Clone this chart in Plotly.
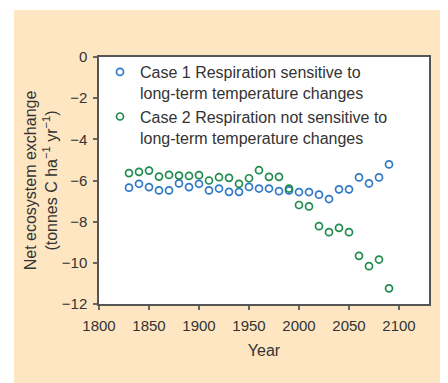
import plotly.graph_objects as go

years = [1830, 1840, 1850, 1860, 1870, 1880, 1890, 1900, 1910, 1920, 1930, 1940, 1950, 1960,
         1970, 1980, 1990, 2000, 2010, 2020, 2030, 2040, 2050, 2060, 2070, 2080, 2090]
case1 = [-6.35, -6.16, -6.32, -6.48, -6.48, -6.14, -6.32, -6.16, -6.48, -6.39, -6.55, -6.55, -6.31, -6.39,
         -6.39, -6.52, -6.48, -6.56, -6.56, -6.69, -6.90, -6.43, -6.43, -5.85, -6.14, -5.85, -5.22]
case2 = [-5.64, -5.58, -5.52, -5.81, -5.73, -5.76, -5.78, -5.74, -6.00, -5.84, -5.87, -6.16, -5.89, -5.50,
         -5.82, -5.82, -6.39, -7.19, -7.26, -8.22, -8.51, -8.30, -8.51, -9.66, -10.16, -9.84, -11.24]
name1 = "Case 1 Respiration sensitive to<br>long-term temperature changes"
name2 = "Case 2 Respiration not sensitive to<br>long-term temperature changes"
xticks = [1800, 1850, 1900, 1950, 2000, 2050, 2100]
yticks = [0, -2, -4, -6, -8, -10, -12]

BLUE = "#2f78c8"
GREEN = "#1f8b4c"
PEACH = "#fee6c2"
FONT = "Liberation Sans, Arial, sans-serif"

fig = go.Figure()
fig.add_trace(go.Scatter(x=years, y=case1, mode="markers", name=name1,
                         marker=dict(symbol="circle-open", size=7, color=BLUE, line=dict(width=1.7, color=BLUE))))
fig.add_trace(go.Scatter(x=years, y=case2, mode="markers", name=name2,
                         marker=dict(symbol="circle-open", size=7, color=GREEN, line=dict(width=1.7, color=GREEN))))

OFF = 8  # default page body margin
W, H = 448 - OFF, 383 - OFF
L, T = 99 - OFF, 57 - OFF
R = W - (429 - OFF)
B = H - (304 - OFF)
pw, ph = W - L - R, H - T - B

def px2x(p):  # page pixel -> paper x
    return (p - OFF - L) / pw

def py2y(p):  # page pixel -> paper y
    return (H - B - (p - OFF)) / ph

fig.update_layout(
    width=W, height=H,
    margin=dict(l=L, r=R, t=T, b=B, pad=0, autoexpand=False),
    paper_bgcolor=PEACH, plot_bgcolor="white",
    font=dict(family=FONT, size=15, color="#333333"),
    showlegend=True,
    legend=dict(x=px2x(100), y=py2y(55), xanchor="left", yanchor="top",
                bgcolor="rgba(0,0,0,0)", font=dict(size=16, color="#333333"),
                valign="top", tracegroupgap=0),
    xaxis=dict(range=[1800, 2130], tickvals=xticks, ticks="outside", ticklen=4, tickwidth=1.5,
               tickcolor="#666666", showline=True, linecolor="#555555", linewidth=1.5, mirror=True,
               showgrid=False, zeroline=False, automargin=False, ticklabelstandoff=3,
               title=dict(text="Year", font=dict(size=16, color="#333333"), standoff=12)),
    yaxis=dict(range=[-12, 0], tickvals=yticks, ticks="outside", ticklen=4, tickwidth=1.5,
               tickcolor="#666666", showline=True, linecolor="#555555", linewidth=1.5, mirror=True,
               showgrid=False, zeroline=False, automargin=False, ticklabelstandoff=3,
               title=dict(text="Net ecosystem exchange<br>(tonnes C ha<sup>−1</sup> yr<sup>−1</sup>)",
                          font=dict(size=16, color="#333333"), standoff=0)),
    shapes=[
        dict(type="rect", xref="paper", yref="paper", x0=px2x(0), x1=px2x(14), y0=py2y(400), y1=py2y(0),
             fillcolor="white", line=dict(width=0), layer="below"),
        dict(type="rect", xref="paper", yref="paper", x0=px2x(0), x1=px2x(460), y0=py2y(10), y1=py2y(0),
             fillcolor="white", line=dict(width=0), layer="below"),
    ],
)

fig.write_html("out.html")
